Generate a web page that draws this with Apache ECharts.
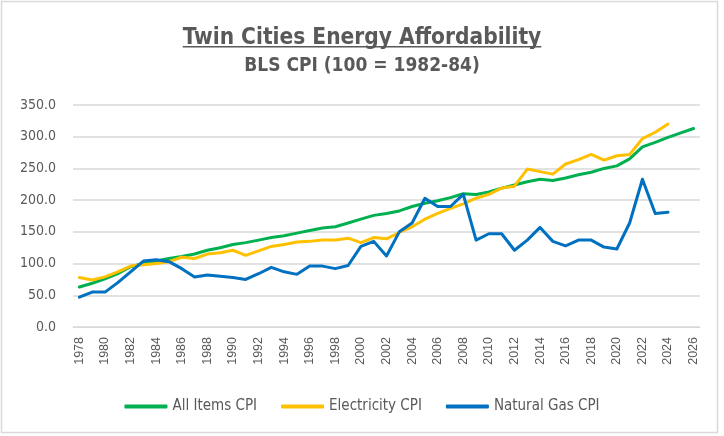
<!DOCTYPE html>
<html>
<head>
<meta charset="utf-8">
<script src="https://cdn.jsdelivr.net/npm/echarts@6/dist/echarts.min.js"></script>
<style>
  html, body { margin: 0; padding: 0; background: #fff; }
  #main { width: 724px; height: 436px; }
</style>
</head>
<body>
<div id="main"></div>
<script>
// years on the x axis
var years = [];
for (var y = 1978; y <= 2026; y++) years.push(String(y));

// BLS CPI, 100 = 1982-84
var allItems = [63, 69, 76, 84, 95, 100, 104, 108, 111, 115,
  121, 125, 130, 133, 137, 141, 144, 148, 152, 156,
  158, 164, 170, 176, 179, 183, 190, 195, 199, 204,
  210, 209, 213, 219, 224, 229, 233, 231, 235, 240,
  244, 250, 254, 265, 284, 291, 299, 306, 313];

var electricity = [78, 74, 79, 87, 96, 98, 100, 103, 110, 108,
  115, 117, 121, 113, 120, 127, 130, 134, 135, 137,
  137, 140, 133, 141, 139, 149, 158, 170, 179, 187,
  194, 203, 209, 219, 222, 249, 245, 241, 257, 264,
  272, 263, 270, 272, 297, 307, 320, null, null];

var naturalGas = [47, 55, 55, 70, 87, 104, 106, 103, 92, 79,
  82, 80, 78, 75, 84, 94, 87, 83, 96, 96,
  92, 97, 127, 135, 112, 150, 164, 203, 190, 190,
  209, 137, 147, 147, 121, 137, 157, 135, 128, 137,
  137, 126, 123, 164, 233, 179, 181, null, null];

var seriesNames = ['All Items CPI', 'Electricity CPI', 'Natural Gas CPI'];
var seriesColors = ['#00B050', '#FFC000', '#0070C0'];

var yMin = 0, yMax = 350, yStep = 50;

var titleText = 'Twin Cities Energy Affordability';
var narrow = "'DejaVu Sans Condensed', 'Liberation Sans Narrow', 'Liberation Sans', sans-serif";
var titleSize = 22.5;

// width of the title, for the underline
var ctx = document.createElement('canvas').getContext('2d');
ctx.font = 'bold ' + titleSize + 'px ' + narrow;
var titleW = ctx.measureText(titleText).width;

var chart = echarts.init(document.getElementById('main'));

function lineSeries(i, data) {
  return {
    name: seriesNames[i],
    type: 'line',
    data: data,
    showSymbol: false,
    symbol: 'none',
    connectNulls: false,
    itemStyle: { color: seriesColors[i] },
    lineStyle: { width: 3, color: seriesColors[i], cap: 'round', join: 'round' },
    emphasis: { disabled: true }
  };
}

var option = {
  animation: false,
  backgroundColor: '#fff',
  title: [
    {
      text: titleText,
      left: 'center',
      top: 22,
      textStyle: {
        fontFamily: narrow,
        fontSize: titleSize,
        fontWeight: 'bold',
        color: '#595959'
      }
    },
    {
      text: 'BLS CPI (100 = 1982-84)',
      left: 'center',
      top: 52,
      textStyle: {
        fontFamily: narrow,
        fontSize: 19,
        fontWeight: 'bold',
        color: '#595959'
      }
    }
  ],
  graphic: [
    {
      // outer chart border
      type: 'rect',
      shape: { x: 1.5, y: 1.5, width: 716, height: 431 },
      style: { fill: 'none', stroke: '#D9D9D9', lineWidth: 1.5 },
      silent: true
    },
    {
      // title underline
      type: 'rect',
      shape: { x: 362 - titleW / 2, y: 46, width: titleW, height: 1.6 },
      style: { fill: '#595959' },
      silent: true
    }
  ],
  legend: {
    data: seriesNames,
    top: 394,
    left: 'center',
    icon: 'roundRect',
    itemWidth: 43,
    itemHeight: 4,
    itemGap: 24,
    textStyle: {
      fontFamily: narrow,
      fontSize: 15,
      color: '#595959'
    }
  },
  grid: {
    left: 73,
    right: 24,
    top: 105,
    bottom: 109,
    containLabel: false
  },
  xAxis: {
    type: 'category',
    data: years,
    boundaryGap: true,
    axisLine: { show: true, lineStyle: { color: '#D9D9D9', width: 1 } },
    axisTick: { show: false },
    axisLabel: {
      interval: 1,
      rotate: 90,
      margin: 10,
      fontFamily: 'Liberation Sans',
      fontSize: 12.5,
      color: '#595959'
    },
    splitLine: { show: false }
  },
  yAxis: {
    type: 'value',
    min: yMin,
    max: yMax,
    interval: yStep,
    axisLine: { show: false },
    axisTick: { show: false },
    axisLabel: {
      margin: 17,
      fontFamily: narrow,
      fontSize: 14,
      color: '#595959',
      formatter: function (v) { return v.toFixed(1); }
    },
    splitLine: { lineStyle: { color: '#D9D9D9', width: 1.5 } }
  },
  series: [
    lineSeries(0, allItems),
    lineSeries(1, electricity),
    lineSeries(2, naturalGas)
  ]
};

chart.setOption(option);
</script>
</body>
</html>
